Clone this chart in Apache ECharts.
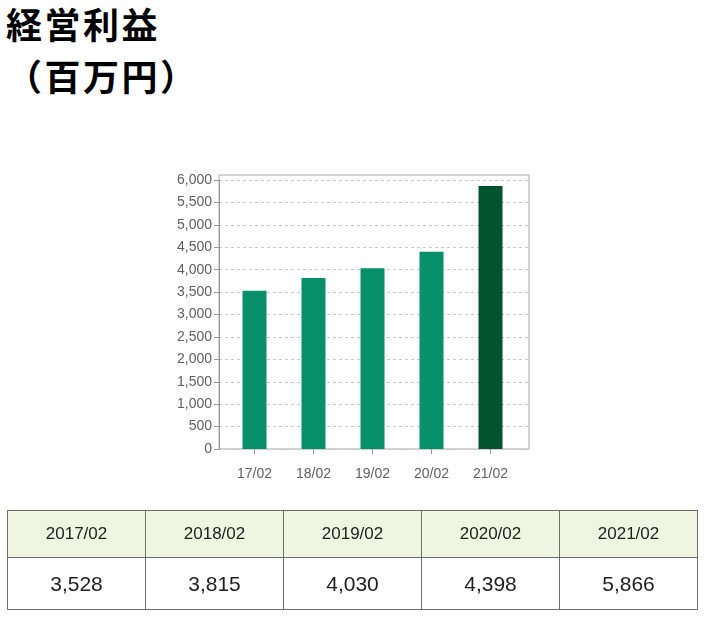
<!DOCTYPE html>
<html>
<head>
<meta charset="utf-8">
<script src="https://cdn.jsdelivr.net/npm/echarts@6/dist/echarts.min.js"></script>
<style>
  html, body { margin: 0; padding: 0; background: #fff; }
  body { width: 705px; height: 625px; position: relative; overflow: hidden; }
  .title {
    position: absolute; left: 6px;
    font-family: 'Noto Sans CJK JP', sans-serif; font-weight: bold;
    font-size: 36px; line-height: 36px; letter-spacing: 2.5px; color: #000;
  }
  #chart { position: absolute; left: 0; top: 0; width: 705px; height: 625px; }
  table {
    position: absolute; left: 7px; top: 510px; width: 691px;
    border-collapse: collapse; table-layout: fixed;
    font-family: 'Liberation Sans', Arial, sans-serif; color: #1e1e1e;
  }
  td { border: 1px solid #6e6e6e; text-align: center; padding: 0; }
  tr.head td { background: #eef6e1; height: 46px; font-size: 17px; }
  tr.vals td { background: #fff; height: 51px; font-size: 21px; }
</style>
</head>
<body>
<div class="title" style="top:5px">経営利益</div>
<div class="title" style="top:57px">（百万円）</div>
<div id="chart"></div>
<table id="tbl"></table>
<script>
// 決算期
const periods = ['17/02', '18/02', '19/02', '20/02', '21/02']
const periodsFull = ['2017/02', '2018/02', '2019/02', '2020/02', '2021/02']
// 経営利益（百万円）
const profit = [3528, 3815, 4030, 4398, 5866]
const yMin = 0
const yMax = 6000
const yStep = 500

const barColor = '#07906a'
const lastColor = '#04532f'

// table under the chart
const tbl = document.getElementById('tbl')
tbl.innerHTML =
  '<tr class="head">' + periodsFull.map(p => `<td>${ p }</td>`).join('') + '</tr>' +
  '<tr class="vals">' + profit.map(v => `<td>${ v.toLocaleString('en-US') }</td>`).join('') + '</tr>'

const chart = echarts.init(document.getElementById('chart'))

const font = { fontFamily: 'Liberation Sans', fontSize: 14, color: '#606060' }

chart.setOption({
  animation: false,
  grid: [
    // frame
    { left: 219, right: 176, top: 175, bottom: 176, show: true, borderColor: '#a8a8a8', borderWidth: 1 },
    // y axis + grid lines
    { left: 219, right: 176, top: 180, bottom: 176 },
    // bars
    { left: 225, right: 185, top: 180, bottom: 176 }
  ],
  xAxis: [
    { gridIndex: 0, type: 'value', show: false },
    { gridIndex: 1, type: 'value', show: false },
    {
      gridIndex: 2,
      type: 'category',
      data: periods,
      axisLine: { show: false },
      axisTick: { show: true, alignWithLabel: true, length: 5, lineStyle: { color: '#999' } },
      axisLabel: { ...font, margin: 18 }
    }
  ],
  yAxis: [
    { gridIndex: 0, type: 'value', show: false },
    {
      gridIndex: 1,
      type: 'value',
      min: yMin,
      max: yMax,
      interval: yStep,
      axisLine: { show: true, lineStyle: { color: '#999' } },
      axisTick: { show: true, length: 5, lineStyle: { color: '#999' } },
      axisLabel: { ...font, margin: 7, formatter: v => v.toLocaleString('en-US') },
      splitLine: { show: true, lineStyle: { color: '#c8c8c8', type: [3, 3] } }
    },
    { gridIndex: 2, type: 'value', show: false, min: yMin, max: yMax }
  ],
  series: [{
    type: 'bar',
    xAxisIndex: 2,
    yAxisIndex: 2,
    barWidth: 24,
    data: profit.map((v, i) => ({
      value: v,
      itemStyle: { color: i === profit.length - 1 ? lastColor : barColor }
    }))
  }]
})
</script>
</body>
</html>
